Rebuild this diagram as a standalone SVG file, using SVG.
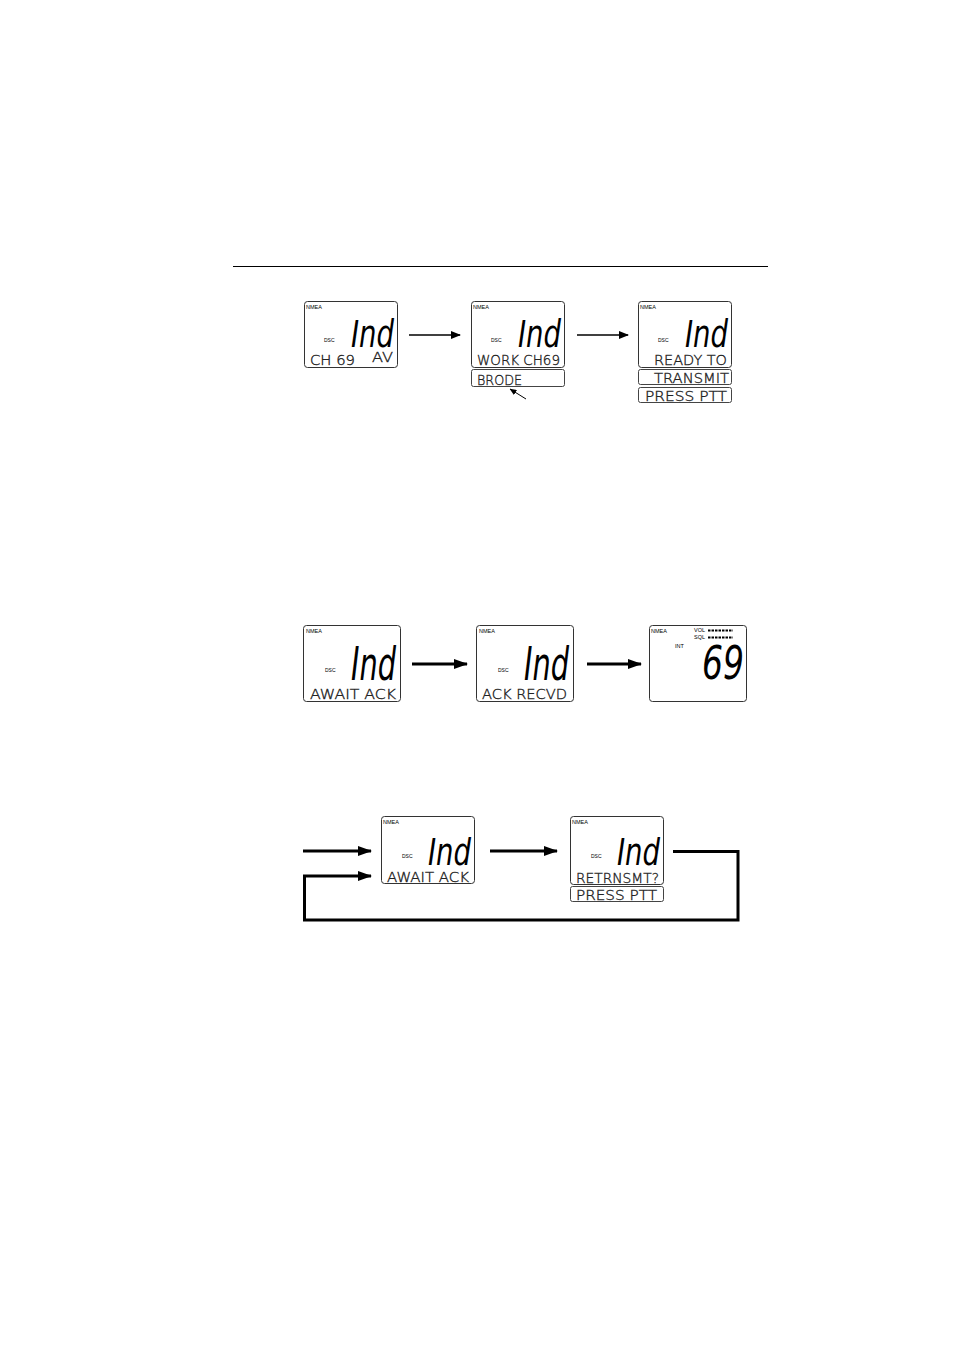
<svg xmlns="http://www.w3.org/2000/svg" width="954" height="1351" viewBox="0 0 954 1351">
<defs>
<style>
.lcd{fill:#fff;stroke:#333;stroke-width:1}
.sub{fill:#fff;stroke:#444;stroke-width:1}
.nm{font-family:"Liberation Sans",Arial,sans-serif;font-size:5.5px;fill:#000}
.dsc{font-family:"Liberation Sans",Arial,sans-serif;font-size:5px;fill:#000}
.big{font-family:"DejaVu Sans Condensed","DejaVu Sans",sans-serif;font-style:oblique;font-weight:200;fill:#000}
.seg{font-family:"DejaVu Sans",sans-serif;font-weight:200;font-size:14px;fill:#222;stroke:#222;stroke-width:0.35}
.thin{stroke:#000;stroke-width:1.6;fill:none}
.thick{stroke:#000;stroke-width:3;fill:none}
</style>
<marker id="ah" markerWidth="10" markerHeight="8" refX="9" refY="4" orient="auto" markerUnits="userSpaceOnUse">
<path d="M0,0 L10,4 L0,8 Z" fill="#000"/>
</marker>
<marker id="ah2" markerWidth="14" markerHeight="10" refX="13" refY="5" orient="auto" markerUnits="userSpaceOnUse">
<path d="M0,0 L14,5 L0,10 Z" fill="#000"/>
</marker>
<marker id="ahs" markerWidth="7" markerHeight="6" refX="6.5" refY="3" orient="auto" markerUnits="userSpaceOnUse">
<path d="M0,0 L7,3 L0,6 Z" fill="#000"/>
</marker>
</defs>
<rect width="954" height="1351" fill="#fff"/>
<line x1="233" y1="266.5" x2="768" y2="266.5" stroke="#000" stroke-width="1"/>

<g id="d1">
<rect class="lcd" x="304.5" y="301.5" width="93" height="66" rx="3"/>
<text class="nm" x="306" y="309">NMEA</text>
<text class="dsc" x="324" y="342">DSC</text>
<text class="big" x="351" y="347" font-size="37" textLength="43" lengthAdjust="spacingAndGlyphs">Ind</text>
<text class="seg" x="310" y="365" textLength="45" lengthAdjust="spacingAndGlyphs">CH 69</text>
<text class="seg" x="372" y="362" font-size="9" textLength="21" lengthAdjust="spacingAndGlyphs" fill="#777" stroke="none">AV</text>
</g>

<g id="d2">
<rect class="lcd" x="471.5" y="301.5" width="93" height="66" rx="3"/>
<text class="nm" x="473" y="309">NMEA</text>
<text class="dsc" x="491" y="342">DSC</text>
<text class="big" x="518" y="347" font-size="37" textLength="43" lengthAdjust="spacingAndGlyphs">Ind</text>
<text class="seg" x="477" y="365" textLength="83" lengthAdjust="spacingAndGlyphs">WORK CH69</text>
<rect class="sub" x="471.5" y="369.5" width="93" height="17" rx="2"/>
<text class="seg" x="477" y="385" textLength="45" lengthAdjust="spacingAndGlyphs">BRODE</text>
</g>

<g id="d3">
<rect class="lcd" x="638.5" y="301.5" width="93" height="66" rx="3"/>
<text class="nm" x="640" y="309">NMEA</text>
<text class="dsc" x="658" y="342">DSC</text>
<text class="big" x="685" y="347" font-size="37" textLength="43" lengthAdjust="spacingAndGlyphs">Ind</text>
<text class="seg" x="654" y="365" textLength="73" lengthAdjust="spacingAndGlyphs">READY TO</text>
<rect class="sub" x="638.5" y="369.5" width="93" height="15" rx="2"/>
<text class="seg" x="654" y="383" textLength="75" lengthAdjust="spacingAndGlyphs">TRANSMIT</text>
<rect class="sub" x="638.5" y="387.5" width="93" height="15" rx="2"/>
<text class="seg" x="645" y="401" textLength="82" lengthAdjust="spacingAndGlyphs">PRESS PTT</text>
</g>

<g id="d4">
<rect class="lcd" x="303.5" y="625.5" width="97" height="76" rx="3"/>
<text class="nm" x="306" y="633">NMEA</text>
<text class="dsc" x="325" y="672">DSC</text>
<text class="big" x="351" y="680" font-size="46" textLength="45" lengthAdjust="spacingAndGlyphs">Ind</text>
<text class="seg" x="310" y="699" font-size="16" textLength="86" lengthAdjust="spacingAndGlyphs">AWAIT ACK</text>
</g>

<g id="d5">
<rect class="lcd" x="476.5" y="625.5" width="97" height="76" rx="3"/>
<text class="nm" x="479" y="633">NMEA</text>
<text class="dsc" x="498" y="672">DSC</text>
<text class="big" x="524" y="680" font-size="46" textLength="45" lengthAdjust="spacingAndGlyphs">Ind</text>
<text class="seg" x="482" y="699" font-size="16" textLength="85" lengthAdjust="spacingAndGlyphs">ACK RECVD</text>
</g>

<g id="d6">
<rect class="lcd" x="649.5" y="625.5" width="97" height="76" rx="3"/>
<text class="nm" x="651" y="633">NMEA</text>
<text class="nm" x="694" y="632">VOL</text>
<text class="nm" x="694" y="639">SQL</text>
<line x1="708" y1="630.5" x2="733" y2="630.5" stroke="#000" stroke-width="2" stroke-dasharray="2.5,1"/>
<line x1="708" y1="637.5" x2="733" y2="637.5" stroke="#000" stroke-width="2" stroke-dasharray="2.5,1"/>
<text class="nm" x="675" y="648">INT</text>
<text class="big" x="702" y="679" font-size="46" textLength="42" lengthAdjust="spacingAndGlyphs">69</text>
</g>

<g id="d7">
<rect class="lcd" x="381.5" y="816.5" width="93" height="67" rx="3"/>
<text class="nm" x="383" y="824">NMEA</text>
<text class="dsc" x="402" y="858">DSC</text>
<text class="big" x="428" y="865" font-size="38" textLength="43" lengthAdjust="spacingAndGlyphs">Ind</text>
<text class="seg" x="387" y="882" font-size="15" textLength="82" lengthAdjust="spacingAndGlyphs">AWAIT ACK</text>
</g>

<g id="d8">
<rect class="lcd" x="570.5" y="816.5" width="93" height="68" rx="3"/>
<text class="nm" x="572" y="824">NMEA</text>
<text class="dsc" x="591" y="858">DSC</text>
<text class="big" x="617" y="865" font-size="38" textLength="43" lengthAdjust="spacingAndGlyphs">Ind</text>
<text class="seg" x="576" y="883" font-size="15" textLength="83" lengthAdjust="spacingAndGlyphs">RETRNSMT?</text>
<rect class="sub" x="570.5" y="886.5" width="93" height="15" rx="2"/>
<text class="seg" x="576" y="900" font-size="15" textLength="81" lengthAdjust="spacingAndGlyphs">PRESS PTT</text>
</g>

<g id="connectors">
<line class="thin" x1="409" y1="335" x2="460" y2="335" marker-end="url(#ah)"/>
<line class="thin" x1="577" y1="335" x2="628" y2="335" marker-end="url(#ah)"/>
<line x1="526" y1="399" x2="510" y2="389" stroke="#000" stroke-width="1" marker-end="url(#ahs)"/>
<line class="thick" x1="412" y1="664" x2="467" y2="664" marker-end="url(#ah2)"/>
<line class="thick" x1="587" y1="664" x2="641" y2="664" marker-end="url(#ah2)"/>
<line class="thick" x1="303" y1="851" x2="371" y2="851" marker-end="url(#ah2)"/>
<line class="thick" x1="490" y1="851" x2="557" y2="851" marker-end="url(#ah2)"/>
<path class="thick" d="M673,851.5 H738 V920 H304.5 V876 H371" marker-end="url(#ah2)"/>
</g>
</svg>
